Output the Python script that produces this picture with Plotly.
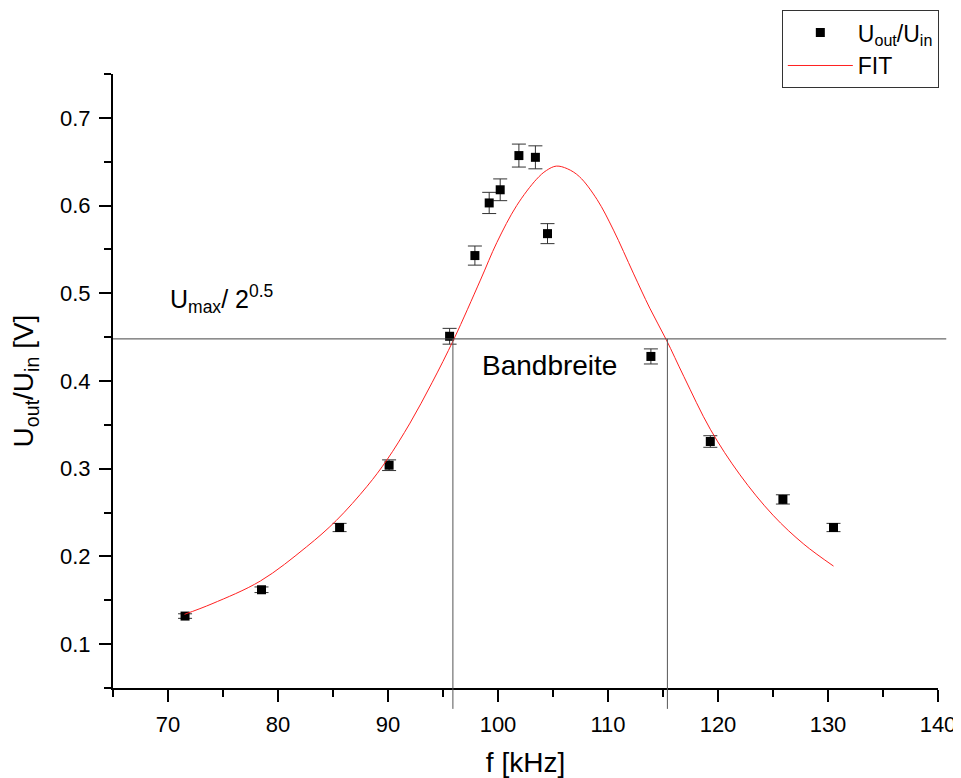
import plotly.graph_objects as go

# Measured data
freq_khz = [71.55, 78.5, 85.6, 90.1, 95.6, 97.9, 99.2, 100.2, 101.9, 103.4, 104.5, 113.9, 119.3, 125.9, 130.5]
u_ratio = [0.132, 0.162, 0.233, 0.304, 0.451, 0.543, 0.603, 0.618, 0.657, 0.655, 0.568, 0.428, 0.331, 0.265, 0.233]
u_err = [0.0026, 0.0032, 0.0047, 0.0061, 0.0090, 0.0109, 0.0121, 0.0124, 0.0131, 0.0131, 0.0114, 0.0086, 0.0066, 0.0053, 0.0047]

# Fit curve
fit_x = [71.5, 74.0, 78.4, 82.6, 85.3, 88.1, 89.9, 92.0, 94.0, 96.0, 98.4, 99.9, 101.7, 103.5, 104.4, 105.3,
         106.3, 107.4, 109.0, 110.5, 112.3, 113.8, 115.3, 116.9, 119.3, 122.0, 125.0, 127.8, 130.5]
fit_y = [0.134, 0.146, 0.172, 0.211, 0.241, 0.280, 0.310, 0.352, 0.398, 0.448, 0.515, 0.558, 0.600, 0.630, 0.640, 0.645,
         0.642, 0.633, 0.607, 0.572, 0.523, 0.483, 0.447, 0.405, 0.345, 0.293, 0.247, 0.214, 0.189]

# Reference lines
u_half = 0.448
band_edges = [95.9, 115.4]

FONT = "Liberation Sans, Arial, sans-serif"

fig = go.Figure()
fig.add_trace(go.Scatter(
    x=freq_khz, y=u_ratio, mode="markers",
    name="U<sub>out</sub>/U<sub>in</sub>",
    marker=dict(symbol="square", size=9, color="black"),
    error_y=dict(type="data", array=u_err, visible=True, color="#333333", thickness=1, width=7),
))
fig.add_trace(go.Scatter(
    x=fit_x, y=fit_y, mode="lines", name="FIT",
    line=dict(color="#ff2020", width=1, shape="spline", smoothing=1.0),
))

shapes = [dict(type="line", xref="paper", yref="y", x0=0, x1=1.01, y0=u_half, y1=u_half,
               line=dict(color="#444444", width=1))]
for xe in band_edges:
    shapes.append(dict(type="line", xref="x", yref="paper", x0=xe, x1=xe, y0=-0.034,
                       y1=(u_half - 0.05) / 0.70, line=dict(color="#555555", width=1)))

# page body has an 8px margin, so the figure is drawn 8px in from the top-left corner
fig.update_layout(
    width=953, height=770,
    margin=dict(l=105, r=23, t=66, b=90, autoexpand=False),
    paper_bgcolor="white", plot_bgcolor="white",
    font=dict(family=FONT, color="black", size=22),
    shapes=shapes,
    showlegend=True,
    legend=dict(x=1.001, y=1.104, xanchor="right", yanchor="top",
                bordercolor="#333333", borderwidth=1, bgcolor="white",
                font=dict(size=23, family=FONT), tracegroupgap=0, itemwidth=65),
    annotations=[
        dict(x=70.0, y=0.493, xref="x", yref="y", xanchor="left", yanchor="middle",
             text="U<sub>max</sub>/ 2<sup>0.5</sup>", showarrow=False, font=dict(size=25, family=FONT)),
        dict(x=98.4, y=0.418, xref="x", yref="y", xanchor="left", yanchor="middle",
             text="Bandbreite", showarrow=False, font=dict(size=28, family=FONT)),
    ],
)
fig.update_xaxes(
    range=[65, 140], showgrid=False, zeroline=False, automargin=False,
    showline=True, linecolor="black", linewidth=2,
    ticks="outside", ticklen=12, tickwidth=2, tickcolor="black", ticklabelstandoff=4,
    tick0=70, dtick=10, tickfont=dict(size=22, family=FONT),
    minor=dict(ticks="outside", ticklen=7, tickwidth=2, tickcolor="black", dtick=5, tick0=65, showgrid=False),
    title=dict(text="f [kHz]", font=dict(size=28, family=FONT), standoff=16),
)
fig.update_yaxes(
    range=[0.05, 0.75], showgrid=False, zeroline=False, automargin=False,
    showline=True, linecolor="black", linewidth=2,
    ticks="outside", ticklen=12, tickwidth=2, tickcolor="black", ticklabelstandoff=4,
    tick0=0.1, dtick=0.1, tickformat=".1f", tickfont=dict(size=22, family=FONT),
    minor=dict(ticks="outside", ticklen=7, tickwidth=2, tickcolor="black", dtick=0.05, tick0=0.05, showgrid=False),
    title=dict(text="U<sub>out</sub>/U<sub>in</sub> [V]", font=dict(size=28, family=FONT), standoff=22),
)

fig.write_html("out.html")
